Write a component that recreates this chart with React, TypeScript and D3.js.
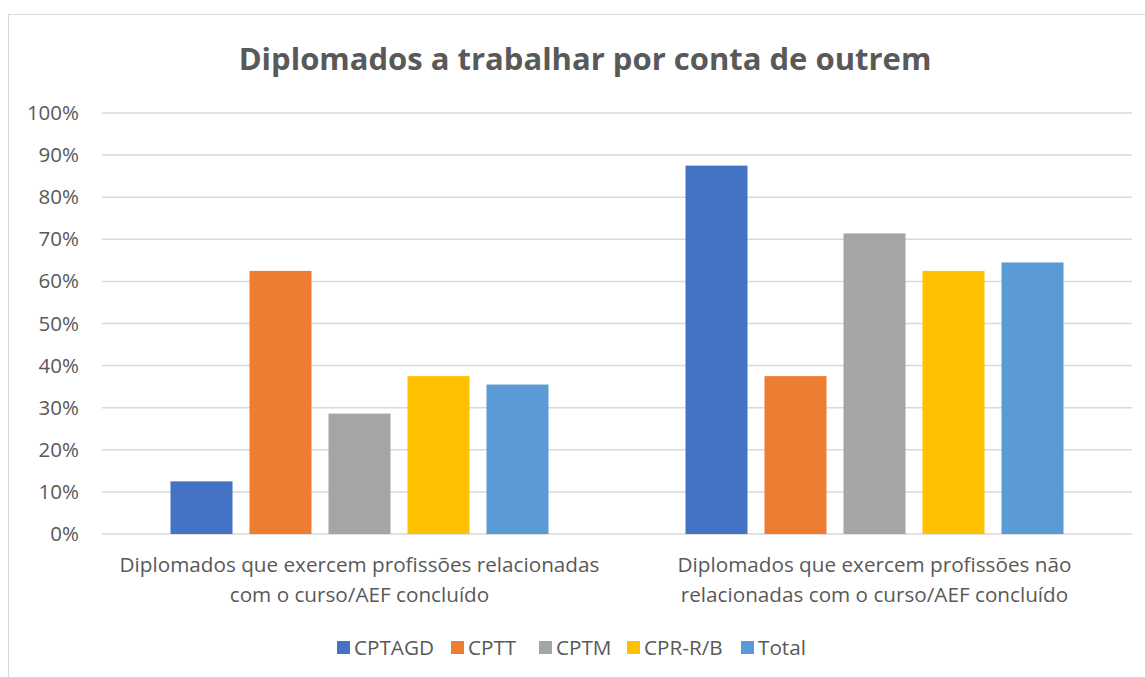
import React from "react";
import * as d3 from "d3";

const categories = [
  ["Diplomados que exercem profissões relacionadas", "com o curso/AEF concluído"],
  ["Diplomados que exercem profissões não", "relacionadas com o curso/AEF concluído"],
];
const seriesNames = ["CPTAGD", "CPTT", "CPTM", "CPR-R/B", "Total"];
const seriesColors = ["#4472C4", "#ED7D31", "#A5A5A5", "#FFC000", "#5B9BD5"];
const values = [
  [0.125, 0.625, 0.286, 0.375, 0.355],
  [0.875, 0.375, 0.714, 0.625, 0.645],
];
const yTicks = [0, 0.1, 0.2, 0.3, 0.4, 0.5, 0.6, 0.7, 0.8, 0.9, 1.0];
const title = "Diplomados a trabalhar por conta de outrem";

export default function App() {
  const W = 1145, H = 677;
  const left = 102, right = 1132, top = 113, bottom = 534;
  const font = "'Open Sans', sans-serif";
  const x0 = d3.scaleBand<number>().domain(categories.map((_, i) => i)).range([left, right]).padding(0);
  const x1 = d3.scaleBand<string>().domain(seriesNames).range([0, x0.bandwidth()]).paddingInner(0.215).paddingOuter(0.867);
  const y = d3.scaleLinear().domain([0, 1]).range([bottom, top]);
  const fmt = d3.format(".0%");
  const legendX = [337, 451, 539, 627, 741];
  return (
    <svg width={W} height={H} style={{ position: "absolute", left: 0, top: 0, background: "#fff" }}>
      <rect x={8.5} y={14.5} width={1150} height={700} fill="#fff" stroke="#d9d9d9" strokeWidth={1} />
      <text x={585} y={70} textAnchor="middle" fontFamily={font} fontWeight="bold" fontSize={31} fill="#595959">{title}</text>
      {yTicks.map((t) => (
        <g key={t}>
          <line x1={left} x2={right} y1={y(t)} y2={y(t)} stroke="#d9d9d9" strokeWidth={1.5} />
          <text x={79} y={y(t) + 7} textAnchor="end" fontFamily={font} fontSize={20.5} fill="#595959">{fmt(t)}</text>
        </g>
      ))}
      {values.map((row, ci) => (
        <g key={ci}>
          {row.map((v, si) => (
            <rect key={si} x={(x0(ci) ?? 0) + (x1(seriesNames[si]) ?? 0)} y={y(v)} width={x1.bandwidth()} height={y(0) - y(v)} fill={seriesColors[si]} />
          ))}
          {categories[ci].map((line, li) => (
            <text key={li} x={(x0(ci) ?? 0) + x0.bandwidth() / 2} y={572 + li * 30} textAnchor="middle" fontFamily={font} fontSize={20.7} fill="#595959">{line}</text>
          ))}
        </g>
      ))}
      {seriesNames.map((s, i) => (
        <g key={s}>
          <rect x={legendX[i]} y={641} width={13} height={13} fill={seriesColors[i]} />
          <text x={legendX[i] + 17} y={655} fontFamily={font} fontSize={20.7} fill="#595959">{s}</text>
        </g>
      ))}
    </svg>
  );
}
